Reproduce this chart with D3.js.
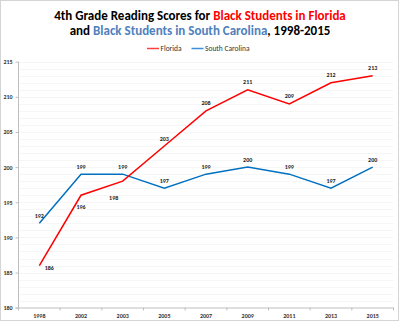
<!DOCTYPE html>
<html>
<head>
<meta charset="utf-8">
<script src="https://cdn.jsdelivr.net/npm/d3@7"></script>
<style>
  body { margin: 0; background: #fff; }
  text { font-family: Calibri, Carlito, "Open Sans", sans-serif; }
</style>
</head>
<body>
<script>
// chart data
const years = ['1998', '2002', '2003', '2005', '2007', '2009', '2011', '2013', '2015'];
const florida = [186, 196, 198, 203, 208, 211, 209, 212, 213];
const southCarolina = [192, 199, 199, 197, 199, 200, 199, 197, 200];
const yTicks = [180, 185, 190, 195, 200, 205, 210, 215];

const [w, h] = [400, 323];
const red = '#ff0000', blue = '#0070c0';
const font = 'Calibri, Carlito, "Open Sans", sans-serif';

const svg = d3.select('body')
  .append('svg')
  .attr('width', w)
  .attr('height', h);

svg.append('rect')
  .attr('x', 0.5).attr('y', 0.5)
  .attr('width', 398).attr('height', 320)
  .attr('fill', '#fff')
  .attr('stroke', '#d4d4d4');

// title
const title = svg.append('g')
  .attr('font-size', '13px')
  .attr('font-weight', 'bold')
  .attr('text-anchor', 'middle');
const t1 = title.append('text').attr('x', 200).attr('y', 19.5);
t1.append('tspan').attr('fill', '#000').text('4th Grade Reading Scores for ');
t1.append('tspan').attr('fill', red).text('Black Students in Florida');
const t2 = title.append('text').attr('x', 200).attr('y', 34.5);
t2.append('tspan').attr('fill', '#000').text('and ');
t2.append('tspan').attr('fill', '#4f81bd').text('Black Students in South Carolina');
t2.append('tspan').attr('fill', '#000').text(', 1998-2015');

// legend
const legend = svg.append('g').attr('font-size', '7.5px').attr('fill', '#333');
[[red, '#ff4040', 'Florida', 147], [blue, '#3a8fd8', 'South Carolina', 191.5]].forEach(([, c, name, lx]) => {
  legend.append('line')
    .attr('x1', lx).attr('x2', lx + 12)
    .attr('y1', 48.5).attr('y2', 48.5)
    .attr('stroke', c)
    .attr('stroke-width', 1.5);
  legend.append('text')
    .attr('x', lx + 13.5).attr('y', 51.2)
    .text(name);
});

// scales
const xScale = d3.scaleBand()
  .domain(years)
  .range([18.5, 393.5]);

const yScale = d3.scaleLinear()
  .domain([180, 215])
  .range([307.7, 61.7]);

// faint gridlines each unit
svg.append('g')
  .selectAll('line')
  .data(d3.range(181, 216))
  .join('line')
  .attr('x1', 18.5).attr('x2', 393.5)
  .attr('y1', d => Math.round(yScale(d)) + 0.5)
  .attr('y2', d => Math.round(yScale(d)) + 0.5)
  .attr('stroke', '#f6f6f6');

// axes
const xAxis = d3.axisBottom(xScale).tickSize(0).tickPadding(6);
const gx = svg.append('g')
  .attr('transform', 'translate(0, 307.5)')
  .call(xAxis);
gx.select('.domain').attr('stroke', '#bfbfbf').attr('d', 'M15.5,0.5H393.5');
gx.selectAll('text')
  .attr('font-size', '6px')
  .attr('font-weight', 'bold')
  .attr('fill', '#333')
  .attr('font-family', font);
// category separators
gx.selectAll('.sep')
  .data(years.concat(['end']))
  .join('line')
  .attr('class', 'sep')
  .attr('x1', (d, i) => 18.5 + i * xScale.step())
  .attr('x2', (d, i) => 18.5 + i * xScale.step())
  .attr('y1', 0).attr('y2', 3)
  .attr('stroke', '#bfbfbf');

const yAxis = d3.axisLeft(yScale).tickValues(yTicks).tickSize(3).tickPadding(3);
const gy = svg.append('g')
  .attr('transform', 'translate(18.5, 0)')
  .call(yAxis);
gy.select('.domain').attr('stroke', '#bfbfbf').attr('d', 'M0,61.7V308');
gy.selectAll('.tick line').attr('stroke', '#bfbfbf');
gy.selectAll('text')
  .attr('font-size', '6px')
  .attr('font-weight', 'bold')
  .attr('fill', '#333')
  .attr('text-anchor', 'start')
  .attr('x', -15)
  .attr('font-family', font);

// lines
const cx = d => xScale(d) + xScale.bandwidth() / 2;
const line = d3.line()
  .x((d, i) => cx(years[i]))
  .y(d => yScale(d));

svg.append('path')
  .datum(southCarolina)
  .attr('d', line)
  .attr('fill', 'none')
  .attr('stroke', blue)
  .attr('stroke-width', 1.5);

svg.append('path')
  .datum(florida)
  .attr('d', line)
  .attr('fill', 'none')
  .attr('stroke', red)
  .attr('stroke-width', 1.5);

// data labels
const labels = svg.append('g')
  .attr('font-size', '6px')
  .attr('font-weight', 'bold')
  .attr('fill', '#222')
  .attr('text-anchor', 'middle');

labels.selectAll('.sc')
  .data(southCarolina)
  .join('text')
  .attr('class', 'sc')
  .attr('x', (d, i) => cx(years[i]))
  .attr('y', d => yScale(d) - 5.5)
  .text(d => d);

labels.selectAll('.fl')
  .data(florida)
  .join('text')
  .attr('class', 'fl')
  .attr('x', (d, i) => {
    if (i === 0) return cx(years[i]) + 10;
    if (d < southCarolina[i] && i > 1) return cx(years[i]) - 9;
    return cx(years[i]);
  })
  .attr('y', (d, i) => {
    if (i === 0) return yScale(d) + 4;
    if (d < southCarolina[i]) return yScale(d) + (i > 1 ? 19 : 14);
    return yScale(d) - 5.5;
  })
  .text(d => d);
</script>
</body>
</html>
